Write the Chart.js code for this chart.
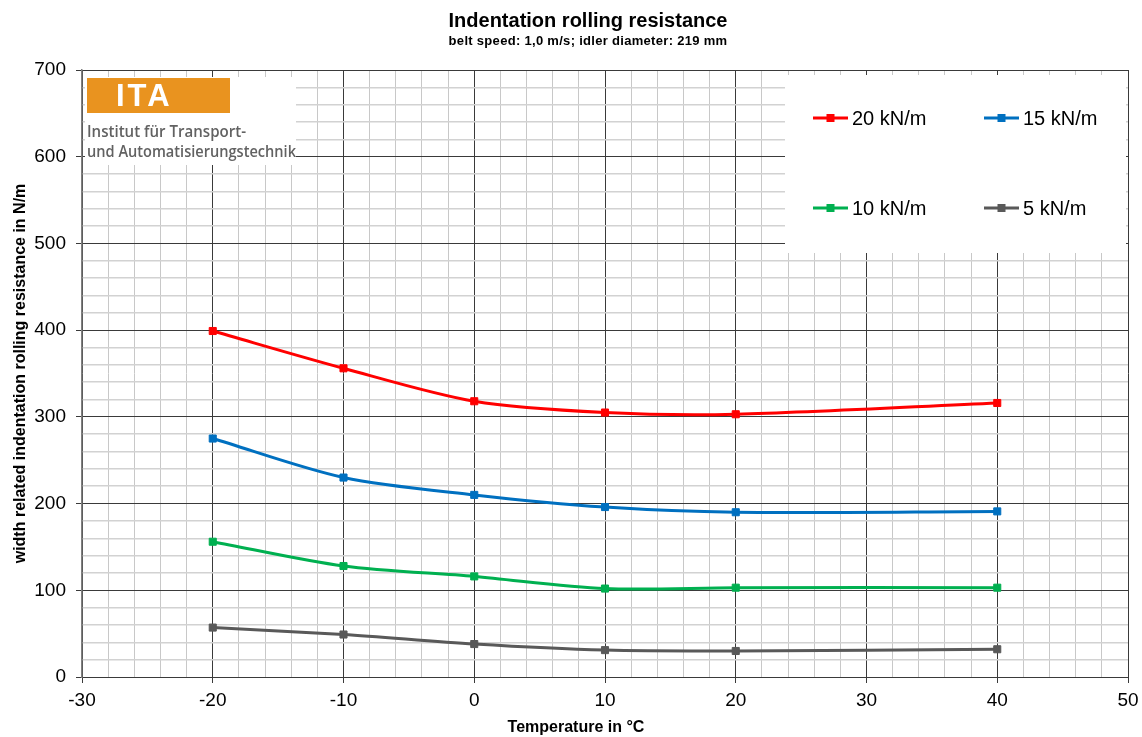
<!DOCTYPE html>
<html>
<head>
<meta charset="utf-8">
<script src="https://cdn.jsdelivr.net/npm/chart.js@4.4.1/dist/chart.umd.min.js"></script>
<style>
    html, body { margin: 0; padding: 0; background: #fff; }
</style>
</head>
<body>
<canvas id="chart1" width="1142" height="737"></canvas>
<script>
// values
const temperatures = [-20, -10, 0, 10, 20, 40];
const load20 = [399, 356, 318, 305, 303, 316];
const load15 = [275, 230, 210, 196, 190, 191];
const load10 = [156, 128, 116, 102, 103, 103];
const load5 = [57, 49, 38, 31, 30, 32];

const seriesLabels = ['20 kN/m', '15 kN/m', '10 kN/m', '5 kN/m'];
const seriesColors = ['#ff0000', '#0070c0', '#00b050', '#595959'];

const xRange = [-30, 50];
const yRange = [0, 700];

const FONT = "'Liberation Sans', Arial, sans-serif";

function toPoints(values) {
    return temperatures.map((t, i) => ({ x: t, y: values[i] }));
}

const series = [load20, load15, load10, load5].map((values, i) => ({
    label: seriesLabels[i],
    data: toPoints(values),
    borderColor: seriesColors[i],
    backgroundColor: seriesColors[i],
    borderWidth: 3,
    pointStyle: 'rect',
    pointRadius: 5,
    pointBorderWidth: 1,
    tension: 0.3
}));

// title, axis title, logo and legend box drawn on the canvas
const decorations = {
    id: 'decorations',
    beforeDatasetsDraw(chart) {
        const { ctx, chartArea } = chart;
        ctx.save();

        // logo
        const lx = chartArea.left + 3, ly = chartArea.top + 7;
        ctx.fillStyle = '#fff';
        ctx.fillRect(lx, ly, 211, 88);
        ctx.fillStyle = '#e9931f';
        ctx.fillRect(lx + 2, ly + 1, 143, 35);
        ctx.fillStyle = '#fff';
        ctx.font = 'bold 31px ' + FONT;
        ctx.textBaseline = 'alphabetic';
        ctx.textAlign = 'left';
        ctx.letterSpacing = '3px';
        ctx.fillText('ITA', lx + 31, ly + 29);
        ctx.letterSpacing = '0px';
        ctx.fillStyle = '#626262';
        ctx.font = "600 17px 'Open Sans', sans-serif";
        ctx.fillText('Institut für Transport-', lx + 2, ly + 60, 159);
        ctx.fillText('und Automatisierungstechnik', lx + 2, ly + 80, 209);

        // legend
        const bx = chartArea.right - 343, by = chartArea.top + 5;
        ctx.fillStyle = '#fff';
        ctx.fillRect(bx, by, 341, 178);
        const cols = [bx + 28, bx + 199];
        const rows = [by + 43, by + 133];
        chart.data.datasets.forEach((ds, i) => {
            const x = cols[i % 2], y = rows[Math.floor(i / 2)];
            ctx.strokeStyle = ds.borderColor;
            ctx.lineWidth = 3;
            ctx.beginPath();
            ctx.moveTo(x, y);
            ctx.lineTo(x + 35, y);
            ctx.stroke();
            ctx.fillStyle = ds.borderColor;
            ctx.fillRect(x + 13.5, y - 4, 8, 8);
            ctx.fillStyle = '#000';
            ctx.font = '20px ' + FONT;
            ctx.textBaseline = 'middle';
            ctx.fillText(ds.label, x + 39, y + 1);
        });
        ctx.restore();
    },
    afterDraw(chart) {
        const { ctx } = chart;
        ctx.save();
        ctx.fillStyle = '#000';
        ctx.textAlign = 'center';
        ctx.textBaseline = 'middle';
        ctx.font = 'bold 20px ' + FONT;
        ctx.fillText('Indentation rolling resistance', 588, 21);
        ctx.font = 'bold 13px ' + FONT;
        ctx.letterSpacing = '0.3px';
        ctx.fillText('belt speed: 1,0 m/s; idler diameter: 219 mm', 588, 41);
        ctx.letterSpacing = '0px';
        ctx.font = 'bold 16px ' + FONT;
        ctx.fillText('Temperature in °C', 576, 728);
        ctx.restore();
    }
};

const isMajorX = v => Math.abs(v % 10) < 1e-6;
const isMajorY = v => Math.abs(v % 100) < 1e-6;

new Chart(document.getElementById('chart1'), {
    type: 'line',
    data: { datasets: series },
    plugins: [decorations],
    options: {
        responsive: false,
        animation: false,
        layout: { padding: { top: 70, right: 14, left: 0, bottom: 0 } },
        plugins: {
            legend: { display: false },
            tooltip: { enabled: false }
        },
        scales: {
            x: {
                type: 'linear',
                min: xRange[0],
                max: xRange[1],
                afterFit(scale) {
                    scale.height = 60;
                    scale.paddingRight = 0;
                },
                ticks: {
                    stepSize: 2,
                    autoSkip: false,
                    maxRotation: 0,
                    padding: 6,
                    color: '#000',
                    font: { family: FONT, size: 19 },
                    callback: v => isMajorX(v) ? v : ''
                },
                grid: {
                    color: c => isMajorX(c.tick.value) ? '#3a3a3a' : '#c8c8c8',
                    tickColor: c => isMajorX(c.tick.value) ? '#3a3a3a' : 'rgba(0,0,0,0)',
                    tickLength: 6,
                    lineWidth: 1
                },
                border: { color: '#3a3a3a', width: 1 }
            },
            y: {
                min: yRange[0],
                max: yRange[1],
                afterFit(scale) { scale.width = 82; },
                ticks: {
                    stepSize: 20,
                    autoSkip: false,
                    padding: 10,
                    color: '#000',
                    font: { family: FONT, size: 19 },
                    callback: v => isMajorY(v) ? v : ''
                },
                grid: {
                    color: c => isMajorY(c.tick.value) ? '#3a3a3a' : '#d2d2d2',
                    lineWidth: c => isMajorY(c.tick.value) ? 1 : 1.5,
                    tickColor: c => isMajorY(c.tick.value) ? '#3a3a3a' : 'rgba(0,0,0,0)',
                    tickLength: 6
                },
                border: { color: '#808080', width: 1.5 },
                title: {
                    display: true,
                    text: 'width related indentation rolling resistance in N/m',
                    color: '#000',
                    font: { family: FONT, size: 16, weight: 'bold' },
                    padding: { top: 11, bottom: 0 }
                }
            }
        }
    }
});
</script>
</body>
</html>
